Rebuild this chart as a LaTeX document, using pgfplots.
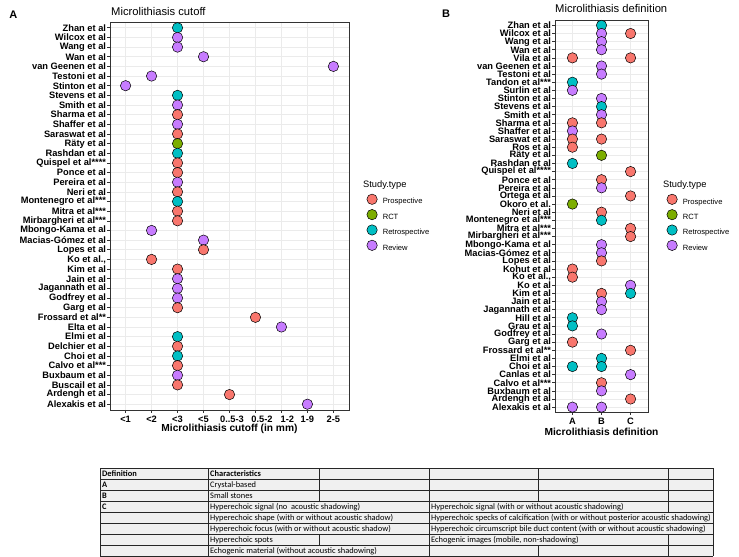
\documentclass[border=0pt]{standalone}
\usepackage{fontspec}
\setmainfont{Liberation Sans}
\newfontfamily\calibri{Carlito}
\usepackage{pgfplots}
\usepackage{pgfplotstable}
\pgfplotsset{compat=1.18}

\definecolor{cPro}{HTML}{F8766D}
\definecolor{cRct}{HTML}{7CAE00}
\definecolor{cRet}{HTML}{00BFC4}
\definecolor{cRev}{HTML}{C77CFF}
\definecolor{grid92}{HTML}{EBEBEB}
\definecolor{gray20}{HTML}{333333}
\definecolor{tabfill}{HTML}{F0F0F0}

% A: x = cutoff category (1..9), y = study row (1 = bottom)
\pgfplotstableread{
x y t
3 40 Ret
3 39 Rev
3 38 Rev
4 37 Rev
9 36 Rev
2 35 Rev
1 34 Rev
3 33 Ret
3 32 Rev
3 31 Pro
3 30 Rev
3 29 Pro
3 28 Rct
3 27 Ret
3 26 Pro
3 25 Pro
3 24 Rev
3 23 Pro
3 22 Ret
3 21 Pro
3 20 Pro
2 19 Rev
4 18 Rev
4 17 Pro
2 16 Pro
3 15 Pro
3 14 Rev
3 13 Rev
3 12 Rev
3 11 Pro
6 10 Pro
7 9 Rev
3 8 Ret
3 7 Pro
3 6 Ret
3 5 Pro
3 4 Rev
3 3 Pro
5 2 Pro
8 1 Rev
}\cutoff

% B: x = definition (1=A, 2=B, 3=C), y = study row (1 = bottom)
\pgfplotstableread{
x y t
2 48 Ret
2 47 Rev
3 47 Pro
2 46 Rev
2 45 Rev
1 44 Pro
3 44 Pro
2 43 Rev
2 42 Rev
1 41 Ret
1 40 Rev
2 39 Rev
2 38 Ret
2 37 Rev
1 36 Pro
2 36 Pro
1 35 Rev
1 34 Pro
2 34 Pro
1 33 Pro
2 32 Rct
1 31 Ret
3 30 Pro
2 29 Pro
2 28 Rev
3 27 Pro
1 26 Rct
2 25 Pro
2 24 Ret
3 23 Pro
3 22 Pro
2 21 Rev
2 20 Rev
2 19 Pro
1 18 Pro
1 17 Pro
3 16 Rev
2 15 Pro
3 15 Ret
2 14 Rev
2 13 Rev
1 12 Ret
1 11 Ret
2 10 Rev
1 9 Pro
3 8 Pro
2 7 Ret
1 6 Ret
2 6 Ret
3 5 Rev
2 4 Pro
2 3 Rev
3 2 Pro
1 1 Rev
2 1 Rev
}\definition

\pgfplotsset{
  dotplot/.style={
    scale only axis, clip=false, anchor=south west,
    axis line style={gray20, line width=0.7bp},
    grid=major, major grid style={grid92, line width=0.6bp},
    tick align=outside, major tick length=2.75bp,
    tick style={gray20, line width=0.6bp},
    xtick pos=lower, ytick pos=left,
    yticklabel style={font=\fontsize{9.3bp}{9.3bp}\selectfont\bfseries, inner xsep=0pt, xshift=-1bp},
    xticklabel style={font=\fontsize{9.3bp}{9.3bp}\selectfont\bfseries},
    xlabel style={font=\fontsize{10.2bp}{12bp}\selectfont\bfseries,
      at={(axis description cs:0.5,0)}, anchor=center},
    scatter/classes={
      Pro={mark=*, mark size=5.2bp, draw=black, fill=cPro, line width=0.5bp},
      Rct={mark=*, mark size=5.2bp, draw=black, fill=cRct, line width=0.5bp},
      Ret={mark=*, mark size=5.2bp, draw=black, fill=cRet, line width=0.5bp},
      Rev={mark=*, mark size=5.2bp, draw=black, fill=cRev, line width=0.5bp}},
    legend style={draw=none, fill=none, inner sep=0pt, anchor=north west,
      font=\fontsize{7.6bp}{9bp}\selectfont, row sep=0pt,
      nodes={inner sep=0pt, minimum height=14.9bp},
      /tikz/every odd column/.append style={column sep=5.5bp}},
    legend cell align=left,
    legend image code/.code={\draw[#1] plot coordinates {(0bp,2.7bp)};},
  }
}

\begin{document}
\begin{tikzpicture}
\useasboundingbox (0,0) rectangle (739bp,557bp);
\fill[white] (0,0) rectangle (739bp,557bp);

\begin{axis}[dotplot,
  at={(110bp,147bp)}, width=239bp, height=388bp,
  xmin=0.4, xmax=9.6, ymin=0.4, ymax=40.6,
  xtick={1,...,9}, ytick={1,...,40},
  xticklabels={{<1},{<2},{<3},{<5},{\hspace*{5bp}0..5-3},{\hspace*{13bp}0.5-2},{\hspace*{12bp}1-2},{1-9},{2-5}},
  yticklabels={Alexakis et al\ ,Ardengh et al,Buscail et al,Buxbaum et al\ ,Calvo et al***,
    Choi et al,Delchier et al,Elmi et al,Elta et al\ ,Frossard et al**,Garg et al,
    Godfrey et al\ ,Jagannath et al,Jain et al\ ,Kim et al,{Ko et al.,\ },Lopes et al\ ,
    Macias-Gómez et al,Mbongo-Kama et al\ ,Mirbargheri et al***,Mitra et al***,
    Montenegro et al***,Neri et al,Pereira et al\ ,Ponce et al,Quispel et al****,
    Rashdan et al,Räty et al,Saraswat et al,Shaffer et al\ ,Sharma et al,Smith et al\ ,
    Stevens et al\ ,Stinton et al\ ,Testoni et al\ ,van Geenen et al,Wan et al\ ,
    Wang et al\ ,Wilcox et al\ ,Zhan et al},
  xlabel={Microlithiasis cutoff (in mm)},
  xlabel style={yshift=-19bp},
  legend style={at={(1.074,0.557)}},
]
\addplot[scatter, only marks, scatter src=explicit symbolic] table[x=x, y=y, meta=t] {\cutoff};
\legend{Prospective,RCT,Retrospective,Review}
\end{axis}

\begin{axis}[dotplot,
  at={(555bp,145bp)}, width=93bp, height=391.5bp,
  xmin=0.4, xmax=3.6, ymin=0.4, ymax=48.6,
  xtick={1,2,3}, ytick={1,...,48},
  xticklabels={A,B,C},
  yticklabels={Alexakis et al\ ,Ardengh et al,Buxbaum et al\ ,Calvo et al***,Canlas et al\ ,
    Choi et al,Elmi et al,Frossard et al**,Garg et al,Godfrey et al\ ,Grau et al,
    Hill et al\ ,Jagannath et al,Jain et al\ ,Kim et al,Ko et al\ ,{Ko et al.,\ },
    Kohut et al,Lopes et al\ ,Macias-Gómez et al,Mbongo-Kama et al\ ,Mirbargheri et al***,
    Mitra et al***,Montenegro et al***,Neri et al,Okoro et al.,Ortega et al,
    Pereira et al\ ,Ponce et al,Quispel et al****,Rashdan et al,Räty et al,Ros et al,
    Saraswat et al,Shaffer et al\ ,Sharma et al,Smith et al\ ,Stevens et al\ ,
    Stinton et al\ ,Surlin et al,Tandon et al***,Testoni et al\ ,van Geenen et al,
    Vila et al,Wan et al\ ,Wang et al\ ,Wilcox et al\ ,Zhan et al},
  xlabel={Microlithiasis definition},
  xlabel style={yshift=-20bp},
  legend style={at={(1.201,0.557)}},
]
\addplot[scatter, only marks, scatter src=explicit symbolic] table[x=x, y=y, meta=t] {\definition};
\legend{Prospective,RCT,Retrospective,Review}
\end{axis}

\begin{scope}[x=1bp, y=1bp]
% panel titles, tags and legend titles
\node[anchor=base west, inner sep=0pt, font=\fontsize{11.2bp}{12bp}\selectfont] at (111,541.5) {Microlithiasis cutoff};
\node[anchor=base west, inner sep=0pt, font=\fontsize{11.2bp}{12bp}\selectfont] at (555,544) {Microlithiasis definition};
\node[anchor=base, inner sep=0pt, font=\fontsize{11bp}{12bp}\selectfont\bfseries] at (13.3,538) {A};
\node[anchor=base, inner sep=0pt, font=\fontsize{11bp}{12bp}\selectfont\bfseries] at (446,539.7) {B};
\node[anchor=base west, inner sep=0pt, font=\fontsize{9.3bp}{10bp}\selectfont] at (363,369.5) {Study.type};
\node[anchor=base west, inner sep=0pt, font=\fontsize{9.3bp}{10bp}\selectfont] at (663,369.5) {Study.type};

% definitions table
\fill[tabfill] (100,1) rectangle (713,89);
\begin{scope}[draw=black!85, line width=0.8bp]
\foreach \yy in {1,12,...,89} \draw (100,\yy) -- (713,\yy);
\foreach \xx in {100,208,429,713} \draw (\xx,1) -- (\xx,89);
\draw (319,56) -- (319,89);  \draw (319,12) -- (319,23);
\draw (538,56) -- (538,89);  \draw (538,1) -- (538,12);
\draw (668,45) -- (668,89);  \draw (668,1) -- (668,23);
\end{scope}
\begin{scope}[every node/.style={anchor=base west, inner sep=0pt, font=\calibri\fontsize{8.4bp}{9bp}\selectfont}]
\node[font=\calibri\bfseries\fontsize{8.4bp}{9bp}\selectfont] at (102,80.7) {Definition};
\node[font=\calibri\bfseries\fontsize{8.4bp}{9bp}\selectfont] at (210,80.7) {Characteristics};
\node at (102,69.7) {\textbf{A}};
\node at (210,69.7) {Crystal-based};
\node at (102,58.7) {\textbf{B}};
\node at (210,58.7) {Small stones};
\node at (102,47.7) {\textbf{C}};
\node at (210,47.7) {Hyperechoic signal (no\ \ acoustic shadowing)};
\node at (431,47.7) {Hyperechoic signal (with or without acoustic shadowing)};
\node at (210,36.7) {Hyperechoic shape (with or without acoustic shadow)};
\node at (431,36.7) {Hyperechoic specks of calcification (with or without posterior acoustic shadowing)};
\node at (210,25.7) {Hyperechoic focus (with or without acoustic shadow)};
\node at (431,25.7) {Hyperechoic circumscript bile duct content (with or without acoustic shadowing)};
\node at (210,14.7) {Hyperechoic spots};
\node at (431,14.7) {Echogenic images (mobile, non-shadowing)};
\node at (210,3.7) {Echogenic material (without acoustic shadowing)};
\end{scope}
\end{scope}
\end{tikzpicture}
\end{document}
